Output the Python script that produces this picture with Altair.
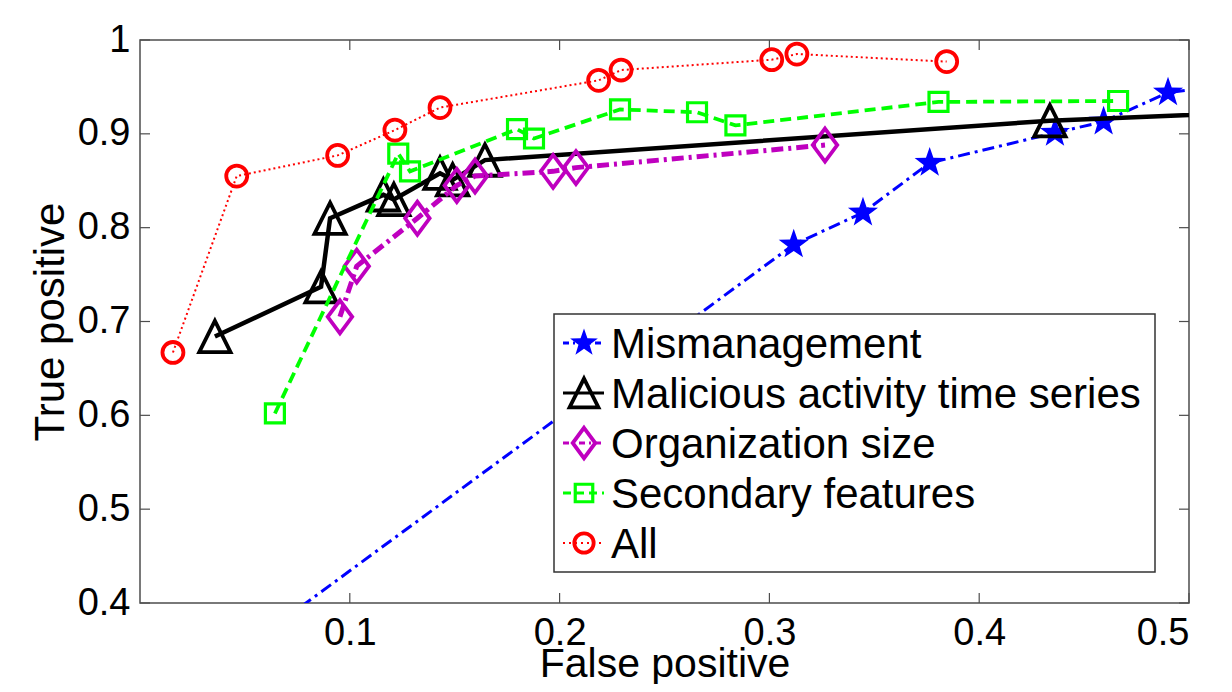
import altair as alt
import pandas as pd

W, H = 1049, 563
FONT = "Liberation Sans"

# ---- data ----
series_names = ["Mismanagement", "Malicious activity time series", "Organization size",
                "Secondary features", "All"]

mis_fp = [0.0, 0.3116, 0.3446, 0.3764, 0.4361, 0.4593, 0.490, 0.6]
mis_tp = [0.27, 0.782, 0.816, 0.869, 0.901, 0.913, 0.944, 0.975]

mal_fp = [0.0357, 0.0863, 0.0906, 0.116, 0.121, 0.143, 0.149, 0.1644, 0.4337, 0.6]
mal_tp = [0.684, 0.737, 0.810, 0.835, 0.830, 0.858, 0.851, 0.872, 0.914, 0.929]

org_fp = [0.0953, 0.1033, 0.1322, 0.1510, 0.1597, 0.1969, 0.2078, 0.3265]
org_tp = [0.705, 0.759, 0.810, 0.845, 0.855, 0.860, 0.864, 0.888]

sec_fp = [0.0643, 0.1231, 0.1287, 0.1797, 0.1878, 0.2288, 0.2655, 0.2838, 0.3806, 0.4662]
sec_tp = [0.602, 0.879, 0.860, 0.905, 0.895, 0.926, 0.923, 0.909, 0.934, 0.935]

all_fp = [0.0157, 0.0461, 0.0942, 0.1215, 0.1430, 0.2186, 0.2293, 0.3011, 0.3131, 0.3845]
all_tp = [0.667, 0.855, 0.877, 0.904, 0.928, 0.957, 0.968, 0.979, 0.985, 0.977]

x_ticks = [0.1, 0.2, 0.3, 0.4, 0.5]
y_ticks = [0.4, 0.5, 0.6, 0.7, 0.8, 0.9, 1.0]

# ---- marker shapes (SVG paths in the unit box) ----
TRI = "M0,-1L1,1L-1,1Z"
DIA = "M0,-1.35L1,0L0,1.35L-1,0Z"
STAR = ("M0,-1L0.235,-0.324L0.951,-0.309L0.38,0.124L0.588,0.809L0,0.4"
        "L-0.588,0.809L-0.38,0.124L-0.951,-0.309L-0.235,-0.324Z")

styles = [
    dict(fp=mis_fp, tp=mis_tp, color="#0000FF", width=3, dash=[12, 5, 3, 5],
         shape=STAR, size=1000, filled=True, sw=1.5, ldash=[6, 4, 2, 4]),
    dict(fp=mal_fp, tp=mal_tp, color="#000000", width=4.5, dash=None,
         shape=TRI, size=980, filled=False, sw=3.8, ldash=None),
    dict(fp=org_fp, tp=org_tp, color="#BF00BF", width=5, dash=[12, 5, 3, 5],
         shape=DIA, size=600, filled=False, sw=3.8, ldash=[6, 4, 2, 4]),
    dict(fp=sec_fp, tp=sec_tp, color="#00FF00", width=3.8, dash=[11, 6],
         shape="square", size=360, filled=False, sw=3.2, ldash=[8, 5]),
    dict(fp=all_fp, tp=all_tp, color="#FF0000", width=2, dash=[2, 3],
         shape="circle", size=440, filled=False, sw=3.8, ldash=[2, 4]),
]

xenc = alt.X("fp:Q",
             scale=alt.Scale(domain=[0.0, 0.5], nice=False, zero=False),
             axis=alt.Axis(values=x_ticks, format=".1f", title="False positive",
                           orient="bottom",
                           labelPadding=41, labelBaseline="alphabetic",
                           titleY=73, titleBaseline="alphabetic", titleFontSize=41))
yenc = alt.Y("tp:Q",
             scale=alt.Scale(domain=[0.4, 1.0], nice=False, zero=False),
             axis=alt.Axis(values=y_ticks, orient="left",
                           labelExpr="datum.value == 1 ? '1' : format(datum.value, '.1f')",
                           title="True positive", labelPadding=10,
                           titleX=-77, titleBaseline="alphabetic"))

layers = []

# inward tick marks on all four sides
xt = pd.DataFrame({"fp": x_ticks})
yt = pd.DataFrame({"tp": y_ticks})
tick_col = "#4d4d4d"
layers.append(alt.Chart(xt).mark_rule(color=tick_col, strokeWidth=1.2).encode(
    x=xenc, y=alt.value(H), y2=alt.value(H - 10)))
layers.append(alt.Chart(xt).mark_rule(color=tick_col, strokeWidth=1.2).encode(
    x=xenc, y=alt.value(0), y2=alt.value(10)))
layers.append(alt.Chart(yt).mark_rule(color=tick_col, strokeWidth=1.2).encode(
    y=yenc, x=alt.value(0), x2=alt.value(10)))
layers.append(alt.Chart(yt).mark_rule(color=tick_col, strokeWidth=1.2).encode(
    y=yenc, x=alt.value(W), x2=alt.value(W - 10)))

for name, st in zip(series_names, styles):
    df = pd.DataFrame({"fp": st["fp"], "tp": st["tp"],
                       "idx": list(range(len(st["fp"]))), "series": name})
    line_kw = dict(color=st["color"], strokeWidth=st["width"], clip=True)
    if st["dash"]:
        line_kw["strokeDash"] = st["dash"]
    layers.append(alt.Chart(df).mark_line(**line_kw).encode(
        x=xenc, y=yenc, order="idx:Q"))
    pt_kw = dict(shape=st["shape"], size=st["size"], color=st["color"],
                 strokeWidth=st["sw"], filled=st["filled"], opacity=1, clip=True)
    layers.append(alt.Chart(df).mark_point(**pt_kw).encode(x=xenc, y=yenc))

# ---- legend (drawn inside the plot, lower right) ----
LX0, LX1, LY0, LY1 = 414, 1015, 274, 532
layers.append(alt.Chart(pd.DataFrame({"a": [0]})).mark_rect(
    fill="white", stroke="#333333", strokeWidth=1.5).encode(
    x=alt.value(LX0), x2=alt.value(LX1), y=alt.value(LY0), y2=alt.value(LY1)))
for i, (name, st) in enumerate(zip(series_names, styles)):
    ry = 303 + 50 * i
    ldf = pd.DataFrame({"label": [name]})
    rk = dict(color=st["color"], strokeWidth=min(st["width"], 3))
    if st["ldash"]:
        rk["strokeDash"] = st["ldash"]
    layers.append(alt.Chart(ldf).mark_rule(**rk).encode(
        x=alt.value(423), x2=alt.value(464), y=alt.value(ry)))
    layers.append(alt.Chart(ldf).mark_point(
        shape=st["shape"], size=st["size"] * 0.85, color=st["color"], strokeWidth=st["sw"],
        filled=st["filled"], opacity=1).encode(x=alt.value(444), y=alt.value(ry)))
    layers.append(alt.Chart(ldf).mark_text(
        align="left", baseline="middle", font=FONT, fontSize=42, color="black").encode(
        x=alt.value(471), y=alt.value(ry + 2), text="label:N"))

chart = alt.layer(*layers).properties(
    width=W, height=H,
    autosize=alt.AutoSizeParams(type="none"),
    padding={"left": 132, "top": 32, "right": 35, "bottom": 81},
).configure_view(
    stroke="#4d4d4d", strokeWidth=1.5
).configure_axis(
    domain=False, ticks=False, grid=False,
    labelFont=FONT, labelFontSize=38, labelColor="black",
    titleFont=FONT, titleFontSize=42, titleFontWeight="normal", titleColor="black",
)

chart.save("out.html", embed_options={"renderer": "svg", "actions": False})
